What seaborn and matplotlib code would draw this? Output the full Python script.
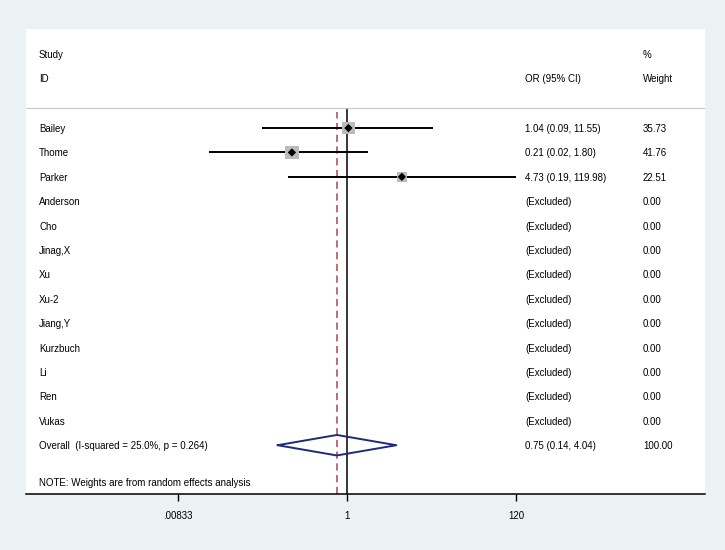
import numpy as np
import pandas as pd
import matplotlib
matplotlib.use('Agg')
import matplotlib.pyplot as plt
import seaborn as sns

# study data
studies = ['Bailey', 'Thome', 'Parker', 'Anderson', 'Cho', 'Jinag,X', 'Xu', 'Xu-2',
           'Jiang,Y', 'Kurzbuch', 'Li', 'Ren', 'Vukas']
or_est = [1.04, 0.21, 4.73]
ci_low = [0.09, 0.02, 0.19]
ci_high = [11.55, 1.80, 119.98]
weights = ['35.73', '41.76', '22.51'] + ['0.00'] * 10
or_text = ['1.04 (0.09, 11.55)', '0.21 (0.02, 1.80)', '4.73 (0.19, 119.98)'] + ['(Excluded)'] * 10

overall_label = 'Overall  (I-squared = 25.0%, p = 0.264)'
overall_est = 0.75
overall_low = 0.14
overall_high = 4.04
overall_text = '0.75 (0.14, 4.04)'
overall_weight = '100.00'

tick_vals = [1 / 120, 1, 120]
tick_labels = ['.00833', '1', '120']

sns.set_theme(style='white')
plt.rcParams['font.family'] = ['Liberation Sans', 'DejaVu Sans']
plt.rcParams['text.color'] = 'black'
plt.rcParams['xtick.color'] = 'black'
plt.rcParams['xtick.labelcolor'] = 'black'
fs = 7.0

fig = plt.figure(figsize=(7.25, 5.5), dpi=100, facecolor='#eaf2f3')
ax = fig.add_axes([26 / 725, (550 - 494) / 550, (705 - 26) / 725, (494 - 29) / 550])
ax.set_facecolor('white')

k = 169 / np.log(120)  # px per log unit
ax.set_xscale('log')
ax.set_xlim(np.exp((26 - 347) / k), np.exp((705 - 347) / k))
ax.set_ylim(15.0, -4.06)
line_y = -0.82

df = pd.DataFrame({'y': np.arange(3), 'est': or_est, 'lo': ci_low, 'hi': ci_high,
                   'w': [float(w) for w in weights[:3]]})

# reference lines
ax.vlines(1, 15.0, line_y, color='black', lw=1.1, zorder=1)
ax.vlines(overall_est, 15.0, line_y + 0.15, color='#b5646a', lw=1.3, ls=(0, (4, 2.5)), zorder=1)
ax.axhline(line_y, color='#c8c8c8', lw=0.8)

# CIs, weight boxes and point estimates
ax.hlines(df['y'], df['lo'], df['hi'], color='black', lw=1.4, zorder=2)
sns.scatterplot(data=df, x='est', y='y', size='w', sizes=(55, 100), marker='s',
                color='#bcbcbc', edgecolor='none', legend=False, ax=ax, zorder=3)
sns.scatterplot(data=df, x='est', y='y', marker='D', s=18, color='black',
                edgecolor='none', legend=False, ax=ax, zorder=4)

# overall diamond
yo = len(studies)
dx = [overall_low, overall_est, overall_high, overall_est, overall_low]
dy = [yo, yo - 0.42, yo, yo + 0.42, yo]
ax.plot(dx, dy, color='#1f2a7a', lw=1.4, zorder=3)

# text columns
trans = ax.get_yaxis_transform()
x_lab, x_or, x_w = (39 - 26) / 679, (525 - 26) / 679, (643 - 26) / 679


def put(x, y, s):
    ax.text(x, y, s, transform=trans, fontsize=fs, va='center_baseline')


put(x_lab, -3.03, 'Study')
put(x_lab, -2.05, 'ID')
put(x_or, -2.05, 'OR (95% CI)')
put(x_w, -3.03, '%')
put(x_w, -2.05, 'Weight')
for i, s in enumerate(studies):
    put(x_lab, i, s)
    put(x_or, i, or_text[i])
    put(x_w, i, weights[i])
put(x_lab, yo, overall_label)
put(x_or, yo, overall_text)
put(x_w, yo, overall_weight)
put(x_lab, 14.5, 'NOTE: Weights are from random effects analysis')

# axes styling
for side in ['top', 'left', 'right']:
    ax.spines[side].set_visible(False)
ax.spines['bottom'].set_color('black')
ax.spines['bottom'].set_linewidth(1.1)
ax.set_xticks(tick_vals)
ax.set_xticklabels(tick_labels)
ax.xaxis.set_minor_locator(matplotlib.ticker.NullLocator())
ax.tick_params(axis='x', bottom=True, length=5, width=1, color='black', labelsize=fs, pad=7)
ax.set_yticks([])
ax.set_xlabel('')
ax.set_ylabel('')

fig.savefig('out.png', dpi=100, facecolor=fig.get_facecolor())
